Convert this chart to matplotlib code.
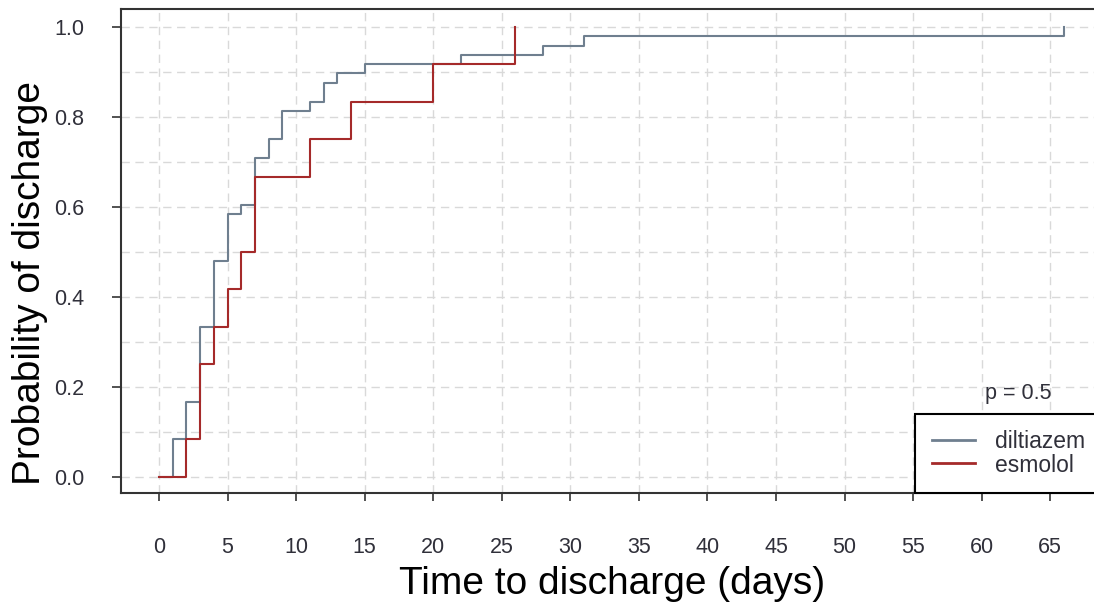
import matplotlib
matplotlib.use("Agg")
import matplotlib.pyplot as plt
import numpy as np

# Kaplan-Meier style cumulative discharge curves
dil_days = [0, 1, 2, 3, 4, 5, 6, 7, 8, 9, 11, 12, 13, 15, 22, 28, 31, 66]
dil_prob = [0.0, 0.083, 0.167, 0.333, 0.479, 0.583, 0.604, 0.708, 0.750, 0.812,
            0.833, 0.875, 0.896, 0.917, 0.938, 0.958, 0.979, 1.0]
esm_days = [0, 2, 3, 4, 5, 6, 7, 11, 14, 20, 26]
esm_prob = [0.0, 0.083, 0.250, 0.333, 0.417, 0.500, 0.667, 0.750, 0.833, 0.917, 1.0]

series_names = ["diltiazem", "esmolol"]
series_colors = ["#6f7f8f", "#a52a2a"]
x_ticks = list(range(0, 70, 5))
y_ticks = [0.0, 0.2, 0.4, 0.6, 0.8, 1.0]
p_text = "p = 0.5"

plt.rcParams['font.family'] = ['Liberation Sans', 'DejaVu Sans']

W, H = 1094, 608
fig = plt.figure(figsize=(W / 100, H / 100), dpi=100)

# axes pixel box
L, R, T, B = 121, 1112, 9, 493
ax = fig.add_axes([L / W, (H - B) / H, (R - L) / W, (B - T) / H])

px_per_day = 13.71
x0 = 159
ax.set_xlim((L - x0) / px_per_day, (R - x0) / px_per_day)
y0 = 476.7
ppu = 450
ax.set_ylim((y0 - B) / ppu, (y0 - T) / ppu)

# grid
for xv in x_ticks:
    ax.axvline(xv, color="#d9d9d9", lw=1.0, ls=(0, (6, 4)), zorder=0)
for yv in np.arange(0, 1.01, 0.1):
    ax.axhline(yv, color="#d9d9d9", lw=1.0, ls=(0, (6, 4)), zorder=0)

ax.step(dil_days, dil_prob, where="post", color=series_colors[0], lw=1.5,
        label=series_names[0], zorder=3)
ax.step(esm_days, esm_prob, where="post", color=series_colors[1], lw=1.5,
        label=series_names[1], zorder=3)

tick_col = "#30303a"
ax.set_xticks(x_ticks)
ax.set_yticks(y_ticks)
ax.set_yticklabels([f"{v:.1f}" for v in y_ticks])
ax.tick_params(axis="x", direction="out", length=6, width=1.2, pad=26,
               labelsize=15.5, colors="#333333", labelcolor=tick_col)
ax.tick_params(axis="y", direction="out", length=6.5, width=1.2, pad=20,
               labelsize=15.5, colors="#333333", labelcolor=tick_col)

for s in ax.spines.values():
    s.set_color("#333333")
    s.set_linewidth(1.5)

ax.set_xlabel("Time to discharge (days)", fontsize=28, color="black")
ax.xaxis.set_label_coords((612 - L) / (R - L), (B - 584) / (B - T))
ax.xaxis.label.set_va("center")
ax.set_ylabel("Probability of discharge", fontsize=28, color="black")
ax.yaxis.set_label_coords((30 - L) / (R - L), (B - 283) / (B - T))
ax.yaxis.label.set_va("center")

# p value text
fig.text(1018 / W, 1 - 394 / H, p_text, fontsize=15.5, color=tick_col,
         ha="center", va="center")

leg = ax.legend(loc="lower left",
                bbox_to_anchor=((915 - L) / (R - L), 0.0),
                fontsize=16.5, frameon=True, fancybox=False,
                handlelength=1.9, handletextpad=0.85, borderpad=0.72,
                labelspacing=0.02, borderaxespad=0)
leg.get_frame().set_edgecolor("black")
leg.get_frame().set_linewidth(1.5)
leg.get_frame().set_alpha(1)
for line in leg.get_lines():
    line.set_linewidth(2)
for t in leg.get_texts():
    t.set_color(tick_col)

fig.savefig("out.png", dpi=100)
